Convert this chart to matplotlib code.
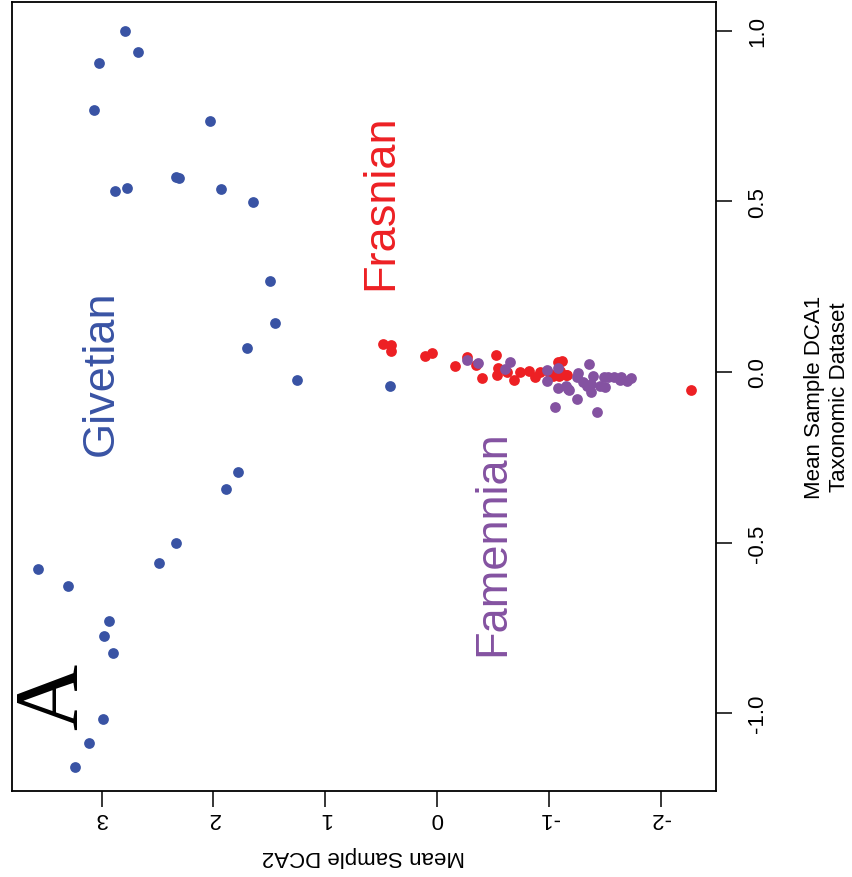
import matplotlib
matplotlib.use("Agg")
import matplotlib.pyplot as plt

plt.rcParams['font.family'] = ['Liberation Sans', 'DejaVu Sans']
plt.rcParams['axes.unicode_minus'] = False

BLUE = '#3953a4'
RED = '#ed2024'
PURPLE = '#8452a1'

# Givetian samples (DCA2, DCA1)
giv_dca2 = [2.79, 2.67, 3.02, 3.07, 2.03, 2.33, 2.31, 2.88, 2.77, 1.93, 1.65, 1.49,
            1.45, 1.70, 1.25, 0.42, 1.78, 1.89, 2.33, 2.49, 3.57, 3.30, 2.93, 2.98,
            2.90, 2.99, 3.11, 3.24]
giv_dca1 = [1.00, 0.937, 0.905, 0.767, 0.735, 0.571, 0.567, 0.530, 0.539, 0.536, 0.498, 0.266,
            0.143, 0.070, -0.023, -0.041, -0.292, -0.344, -0.50, -0.56, -0.577, -0.627, -0.73, -0.775,
            -0.825, -1.016, -1.088, -1.157]

# Frasnian samples
fra_dca2 = [0.48, 0.41, 0.41, 0.107, 0.04, -0.16, -0.27, -0.35, -0.40, -0.53, -0.55, -0.54,
            -0.63, -0.69, -0.74, -0.82, -0.88, -0.92, -1.01, -1.08, -1.09, -1.16, -1.04,
            -1.15, -1.12, -1.10, -2.27]
fra_dca1 = [0.082, 0.079, 0.061, 0.046, 0.055, 0.016, 0.045, 0.021, -0.019, 0.050, 0.011, -0.009,
            -0.001, -0.023, 0.001, 0.002, -0.016, -0.001, -0.006, 0.030, -0.011, -0.009, -0.011,
            -0.008, 0.033, 0.004, -0.052]

# Famennian samples
fam_dca2 = [-0.27, -0.37, -0.65, -0.61, -0.98, -1.08, -0.98, -1.08, -1.15, -1.06, -1.36, -1.26,
            -1.25, -1.40, -1.31, -1.38, -1.17, -1.25, -1.38, -1.49, -1.58, -1.50, -1.64, -1.74,
            -1.70, -1.43, -1.53, -1.46, -1.34, -1.65, -1.18]
fam_dca1 = [0.035, 0.025, 0.028, 0.008, 0.006, 0.011, -0.028, -0.047, -0.040, -0.103, 0.023, -0.004,
            -0.016, -0.011, -0.030, -0.035, -0.050, -0.079, -0.060, -0.016, -0.016, -0.045, -0.025, -0.018,
            -0.027, -0.118, -0.014, -0.040, -0.040, -0.016, -0.053]

x_ticks = [3, 2, 1, 0, -1, -2]
x_tick_labels = ['3', '2', '1', '0', '-1', '-2']
y_ticks = [-1.0, -0.5, 0.0, 0.5, 1.0]
y_tick_labels = ['-1.0', '-0.5', '0.0', '0.5', '1.0']

fig = plt.figure(figsize=(8.53, 8.78), dpi=100)
ax = fig.add_axes([11.7 / 853, 1 - 792 / 878, (716 - 11.7) / 853, (792 - 3.3) / 878])

ms = 60
ax.scatter(giv_dca2, giv_dca1, s=ms, color=BLUE, linewidths=0, zorder=3)
ax.scatter(fra_dca2, fra_dca1, s=ms, color=RED, linewidths=0, zorder=3)
ax.scatter(fam_dca2, fam_dca1, s=ms, color=PURPLE, linewidths=0, zorder=4)

ax.set_xlim(3.804, -2.496)
ax.set_ylim(-1.228, 1.083)

ax.set_xticks(x_ticks)
ax.set_xticklabels(x_tick_labels, rotation=180, fontsize=16)
ax.yaxis.tick_right()
ax.set_yticks(y_ticks)
ax.set_yticklabels(y_tick_labels, rotation=90, fontsize=16, va='center')
ax.tick_params(axis='both', length=11.5, width=1.1)
ax.tick_params(axis='x', pad=0)
ax.tick_params(axis='y', pad=11)

for sp in ax.spines.values():
    sp.set_linewidth(1.3)

ax.set_xlabel('Mean Sample DCA2', rotation=180, fontsize=16, labelpad=12)
ax.yaxis.set_label_position('right')
ax.set_ylabel('Mean Sample DCA1\nTaxonomic Dataset', rotation=90, fontsize=16,
              labelpad=26, multialignment='center')

ax.text(3.0, 0.0, 'Givetian', color=BLUE, fontsize=32.5, rotation=90,
        ha='center', va='center')
ax.text(0.5, 0.5, 'Frasnian', color=RED, fontsize=32.5, rotation=90,
        ha='center', va='center')
ax.text(-0.5, -0.5, 'Famennian', color=PURPLE, fontsize=32.5, rotation=90,
        ha='center', va='center')
ax.text(3.42, -0.95, 'A', fontsize=66, rotation=90, ha='center', va='center',
        family=['Liberation Serif', 'DejaVu Serif'])

fig.savefig('out.png', dpi=100)
